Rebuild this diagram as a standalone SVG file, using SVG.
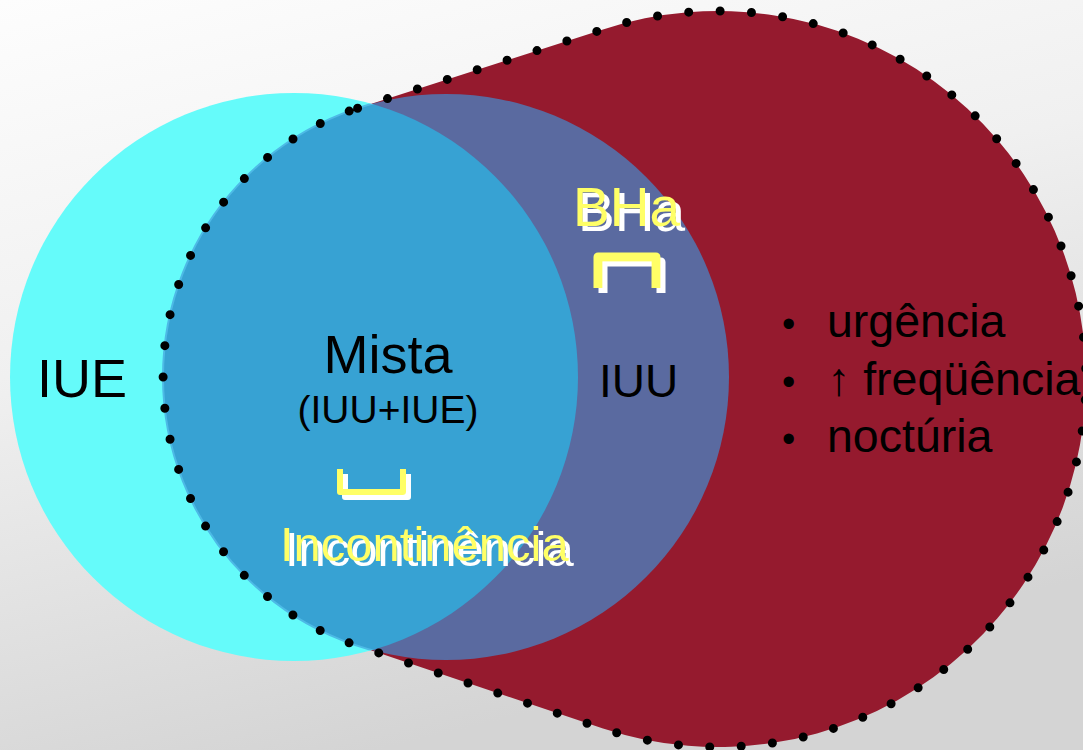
<svg xmlns="http://www.w3.org/2000/svg" width="1083" height="750" viewBox="0 0 1083 750">
  <defs>
    <linearGradient id="bg" x1="0" y1="0" x2="0.35" y2="1">
      <stop offset="0" stop-color="#FDFDFD"/>
      <stop offset="0.45" stop-color="#F0F0F0"/>
      <stop offset="1" stop-color="#D4D4D4"/>
    </linearGradient>
    <clipPath id="cyanClip">
      <circle cx="294" cy="377" r="284"/>
    </clipPath>
    <filter id="whiteShadow" x="-10%" y="-10%" width="130%" height="140%">
      <feOffset in="SourceAlpha" dx="5" dy="5" result="off"/>
      <feFlood flood-color="#FFFFFF" result="white"/>
      <feComposite in="white" in2="off" operator="in" result="shadow"/>
      <feMerge>
        <feMergeNode in="shadow"/>
        <feMergeNode in="SourceGraphic"/>
      </feMerge>
    </filter>
    <style>
      .lbl { font-family: "Liberation Sans", Arial, sans-serif; fill: #000; }
      .ttl { font-family: "Liberation Sans", Arial, sans-serif; fill: #FFFF66; }
      .brY { fill: none; stroke: #FFFF66; stroke-linejoin: round; }
    </style>
  </defs>
  <rect width="1083" height="750" fill="url(#bg)"/>

  <g id="blob">
    <path d="M357.6,108.2 L603,29.4 A368,368 0 1 1 603,728.6 L357.6,645.8 A283,283 0 0 1 357.6,108.2 Z" fill="#951A2E"/>
  </g>

  <g id="iue">
    <circle cx="294" cy="377" r="284" fill="#65FBFA"/>
  </g>

  <g id="iuu">
    <circle cx="446" cy="377" r="283" fill="#5A6AA0"/>
    <circle cx="446" cy="377" r="283" fill="#37A2D3" clip-path="url(#cyanClip)"/>
    <circle cx="446" cy="377" r="283" fill="none" stroke="#4DBAE6" stroke-width="2" clip-path="url(#cyanClip)"/>
  </g>

  <g id="outline">
    <path d="M357.6,108.2 L603,29.4 A368,368 0 1 1 603,728.6 L357.6,645.8 A283,283 0 0 1 357.6,108.2 Z" fill="none" stroke="#000" stroke-width="9" stroke-linecap="round" stroke-dasharray="0 31.4"/>
  </g>

  <g id="label-iue">
    <text class="lbl" x="37" y="397" font-size="54">IUE</text>
  </g>
  <g id="label-mista">
    <text class="lbl" x="388" y="373" font-size="54" text-anchor="middle">Mista</text>
    <text class="lbl" x="388" y="423" font-size="39" text-anchor="middle">(IUU+IUE)</text>
  </g>
  <g id="label-iuu">
    <text class="lbl" x="599" y="397" font-size="46">IUU</text>
  </g>

  <g id="bha" filter="url(#whiteShadow)">
    <text class="ttl" x="573" y="226" font-size="55">BHa</text>
    <path class="brY" stroke-width="9" d="M598,288 L598,257 L656,257 L656,288"/>
  </g>

  <g id="incontinencia" filter="url(#whiteShadow)">
    <path class="brY" stroke-width="6" d="M340,469 L340,492 L403,492 L403,469"/>
    <text class="ttl" x="280" y="561" font-size="49">Incontinência</text>
  </g>

  <g id="symptoms">
    <text class="lbl" x="782" y="337" font-size="38">•</text>
    <text class="lbl" x="827" y="337" font-size="46.5">urgência</text>
    <text class="lbl" x="782" y="395" font-size="38">•</text>
    <text class="lbl" x="827" y="395" font-size="46.5">↑ freqüência</text>
    <text class="lbl" x="782" y="452" font-size="38">•</text>
    <text class="lbl" x="827" y="452" font-size="46.5">noctúria</text>
  </g>
</svg>
